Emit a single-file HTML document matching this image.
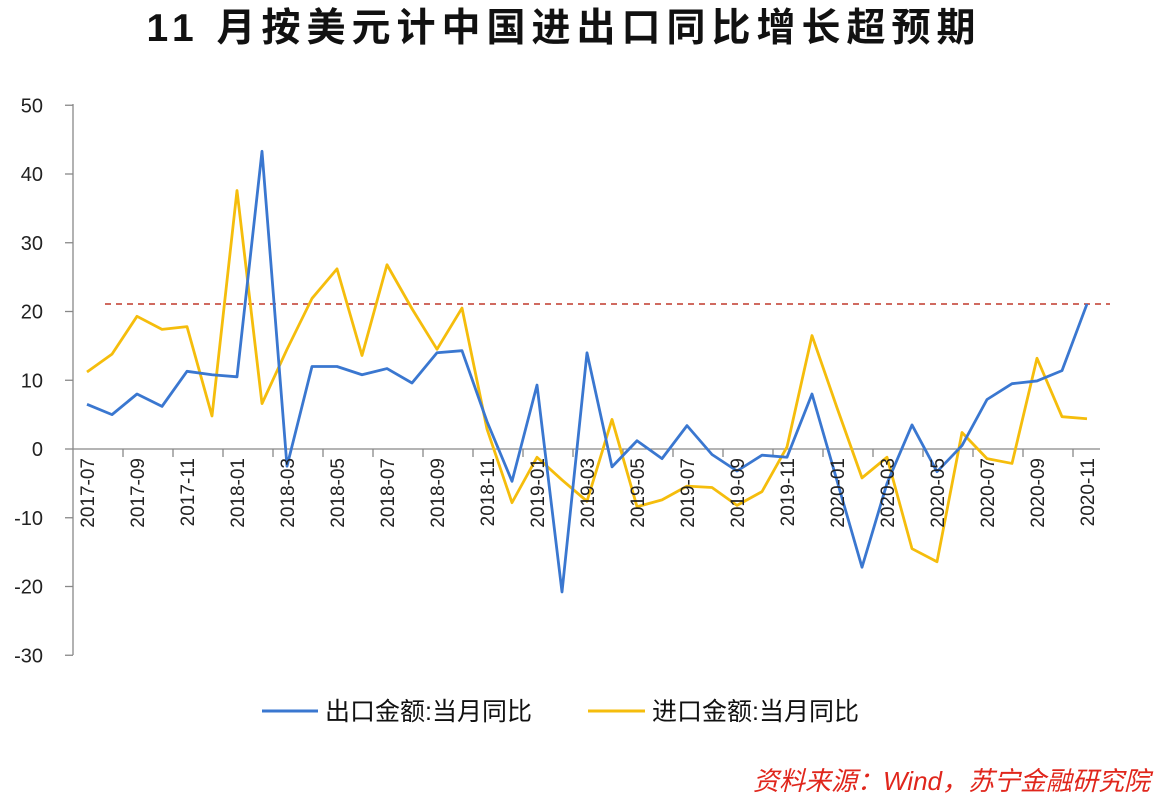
<!DOCTYPE html>
<html><head><meta charset="utf-8"><style>
body{margin:0;background:#fff;width:1162px;height:802px;overflow:hidden}
</style></head><body>
<svg width="1162" height="802" xmlns="http://www.w3.org/2000/svg" font-family="'Liberation Sans','Noto Sans CJK SC',sans-serif">
<rect width="1162" height="802" fill="#fff"/>
<text x="564" y="41" text-anchor="middle" font-size="39" font-weight="bold" fill="#111" letter-spacing="6">11 月按美元计中国进出口同比增长超预期</text>
<g id="ax"></g>
<script>
const ns="http://www.w3.org/2000/svg",g=document.getElementById('ax');
function el(t,a,txt){const e=document.createElementNS(ns,t);for(const k in a)e.setAttribute(k,a[k]);if(txt!=null)e.textContent=txt;g.appendChild(e);return e;}
const Y=v=>449-v*6.875, X=i=>87+i*25;
el('line',{x1:73,y1:104,x2:73,y2:655,stroke:'#888','stroke-width':1.3});
for(let v=-30;v<=50;v+=10){el('line',{x1:65,y1:Y(v),x2:73,y2:Y(v),stroke:'#888','stroke-width':1.3});
el('text',{x:43,y:Y(v)+7,'text-anchor':'end','font-size':20,fill:'#222'},String(v));}
el('line',{x1:73,y1:449,x2:1100,y2:449,stroke:'#888','stroke-width':1.3});
for(let x=123;x<1100;x+=50)el('line',{x1:x,y1:449,x2:x,y2:457,stroke:'#888','stroke-width':1.3});
const ex=[6.5,5,8,6.2,11.3,10.8,10.5,43.3,-2.5,12,12,10.8,11.7,9.6,14,14.3,4,-4.7,9.3,-20.8,14,-2.6,1.2,-1.4,3.4,-0.8,-3.2,-0.9,-1.2,8,-4.6,-17.2,-5,3.5,-3.3,0.5,7.2,9.5,9.9,11.4,21.1];
const im=[11.2,13.8,19.3,17.4,17.8,4.8,37.6,6.6,14.5,21.9,26.2,13.6,26.8,20.4,14.5,20.5,2.9,-7.8,-1.2,-4.5,-7.6,4.3,-8.4,-7.4,-5.4,-5.6,-8.2,-6.2,0.3,16.5,6,-4.2,-1.2,-14.5,-16.4,2.4,-1.4,-2.1,13.2,4.7,4.4];
el('line',{x1:105,y1:304,x2:1110,y2:304,stroke:'#c0392b','stroke-width':1.5,'stroke-dasharray':'6,5'});
el('polyline',{points:im.map((v,i)=>X(i)+','+Y(v)).join(' '),fill:'none',stroke:'#f5bd0c','stroke-width':2.8,'stroke-linejoin':'round'});
el('polyline',{points:ex.map((v,i)=>X(i)+','+Y(v)).join(' '),fill:'none',stroke:'#3a77d0','stroke-width':2.8,'stroke-linejoin':'round'});
for(let i=0;i<=40;i+=2){let m=7+i,y=2017+Math.floor((m-1)/12);m=(m-1)%12+1;
el('text',{transform:`translate(${X(i)+7},458) rotate(-90)`,'text-anchor':'end','font-size':19,fill:'#222'},y+'-'+String(m).padStart(2,'0'));}
el('line',{x1:262,y1:711,x2:318,y2:711,stroke:'#3a77d0','stroke-width':3});
el('text',{x:325,y:720,'font-size':25,fill:'#111'},'出口金额:当月同比');
el('line',{x1:588,y1:711,x2:645,y2:711,stroke:'#f5bd0c','stroke-width':3});
el('text',{x:652,y:720,'font-size':25,fill:'#111'},'进口金额:当月同比');
el('text',{x:1150,y:790,'text-anchor':'end','font-size':26,'font-style':'italic',fill:'#e0261c'},'资料来源：Wind，苏宁金融研究院');
</script>
</svg>
</body></html>
